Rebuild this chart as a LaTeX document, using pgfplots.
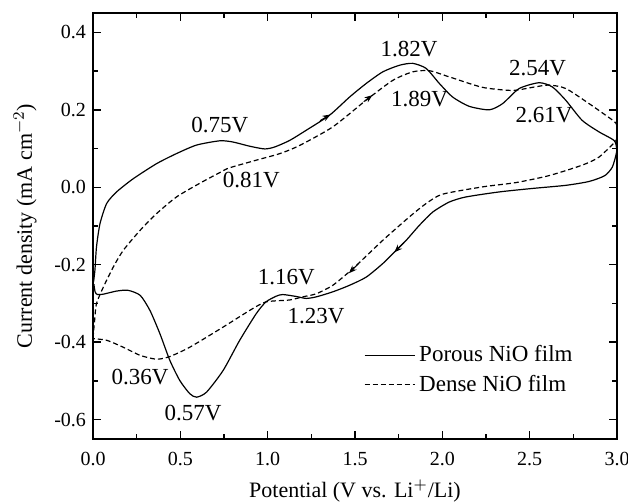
\documentclass[border=0pt]{standalone}
\usepackage{fontspec}
\setmainfont{Liberation Serif}
\usepackage{pgfplots}
\pgfplotsset{compat=1.18}
\usetikzlibrary{arrows.meta}

\begin{document}
\begin{tikzpicture}
\begin{axis}[
    name=ax,
    scale only axis,
    width=262pt, height=213pt,
    xmin=0, xmax=3, ymin=-0.65, ymax=0.45,
    xtick={0,0.5,...,3}, ytick={-0.6,-0.4,...,0.41},
    minor xtick={0.25,0.75,...,2.75},
    minor ytick={-0.5,-0.3,...,0.31},
    tick align=inside,
    major tick length=4pt, minor tick length=2.5pt,
    axis line style={line width=0.8pt},
    every tick/.style={black, line width=0.7pt},
    /pgf/number format/assume math mode=true,
    /pgf/number format/.cd, fixed, fixed zerofill, precision=1, /pgfplots/.cd,
    tick label style={font=\fontsize{10}{12}\selectfont},
    xticklabel style={yshift=-3pt},
    xlabel={Potential (V vs. Li$^{+}$/Li)},
    ylabel={Current density (mA cm$^{-2}$)},
    label style={font=\fontsize{11}{13}\selectfont},
    xlabel style={at={(axis description cs:0.5,0)}, anchor=center, yshift=-26pt},
    ylabel style={at={(axis description cs:0,0.5)}, anchor=center, yshift=34pt},
    legend style={draw=none, fill=none, at={(0.505,0.162)}, anchor=west,
        font=\fontsize{11.5}{13}\selectfont, row sep=1pt},
    legend cell align=left,
    legend image code/.code={\draw[#1] (0pt,0pt) -- (25pt,0pt);},
]
% porous NiO film: anodic branch then cathodic branch
\addplot[black, line width=0.6pt, smooth, tension=0.4] coordinates {
(0.003,-0.245) (0.011,-0.214) (0.02,-0.154) (0.04,-0.094) (0.078,-0.042)
(0.135,-0.012) (0.23,0.022) (0.364,0.061) (0.478,0.087) (0.593,0.109)
(0.726,0.12) (0.80,0.117) (0.897,0.106) (0.983,0.099) (1.04,0.104)
(1.126,0.121) (1.22,0.147) (1.354,0.186) (1.469,0.233) (1.564,0.268)
(1.659,0.298) (1.754,0.315) (1.83,0.32) (1.907,0.307) (1.983,0.268)
(2.059,0.233) (2.154,0.209) (2.269,0.2) (2.345,0.216) (2.44,0.255)
(2.554,0.27) (2.63,0.259) (2.706,0.225) (2.80,0.173) (2.897,0.143)
(2.983,0.121) (2.998,0.10)
(2.995,0.085) (2.973,0.052) (2.93,0.03) (2.84,0.015) (2.707,0.005)
(2.516,-0.003) (2.326,-0.012) (2.135,-0.025) (2.04,-0.038) (1.945,-0.064)
(1.869,-0.098) (1.793,-0.137) (1.735,-0.163) (1.659,-0.197) (1.564,-0.232)
(1.469,-0.253) (1.373,-0.27) (1.278,-0.283) (1.22,-0.287) (1.164,-0.282)
(1.087,-0.277) (1.05,-0.281) (0.99,-0.296) (0.935,-0.326) (0.84,-0.395)
(0.745,-0.473) (0.65,-0.529) (0.593,-0.542) (0.554,-0.533) (0.497,-0.499)
(0.44,-0.447) (0.383,-0.378) (0.326,-0.318) (0.27,-0.279) (0.20,-0.266)
(0.135,-0.268) (0.059,-0.276) (0.025,-0.277) (0.012,-0.27) (0.005,-0.25)
};
\addlegendentry{Porous NiO film}
% dense NiO film
\addplot[black, line width=0.6pt, dash pattern=on 2.5pt off 1.5pt, smooth, tension=0.4] coordinates {
(0.0,-0.39) (0.01,-0.34) (0.02,-0.30) (0.059,-0.258) (0.116,-0.206)
(0.173,-0.163) (0.27,-0.111) (0.364,-0.068) (0.478,-0.025) (0.61,0.01)
(0.726,0.038) (0.78,0.05) (0.935,0.07) (1.07,0.087) (1.183,0.108)
(1.373,0.156) (1.564,0.225) (1.716,0.276) (1.83,0.298) (1.926,0.301)
(2.04,0.285) (2.23,0.258) (2.40,0.25) (2.516,0.258) (2.61,0.264)
(2.707,0.255) (2.84,0.216) (2.935,0.186) (2.995,0.165)
(3.0,0.14) (2.995,0.121) (2.897,0.078) (2.80,0.057) (2.61,0.03)
(2.42,0.012) (2.23,0.001) (2.0,-0.018) (1.907,-0.042) (1.81,-0.077)
(1.659,-0.137) (1.488,-0.21) (1.373,-0.253) (1.278,-0.275) (1.2,-0.283)
(1.126,-0.291) (0.99,-0.296) (0.897,-0.318) (0.745,-0.361) (0.554,-0.413)
(0.44,-0.437) (0.364,-0.444) (0.27,-0.434) (0.173,-0.413) (0.078,-0.395)
(0.0,-0.391)
};
\addlegendentry{Dense NiO film}
% direction arrows
\addplot[forget plot, black, line width=0.5pt, -{Stealth[length=4pt,width=3pt]}] coordinates {(1.30,0.172) (1.36,0.188)};
\addplot[forget plot, black, line width=0.5pt, -{Stealth[length=4pt,width=3pt]}] coordinates {(1.55,0.221) (1.60,0.238)};
\addplot[forget plot, black, line width=0.5pt, -{Stealth[length=4pt,width=3pt]}] coordinates {(1.78,-0.143) (1.725,-0.168)};
\addplot[forget plot, black, line width=0.5pt, -{Stealth[length=4pt,width=3pt]}] coordinates {(1.52,-0.197) (1.465,-0.222)};
% peak labels
\begin{scope}[every node/.style={font=\fontsize{11.5}{13}\selectfont, inner sep=0pt}]
\node at (axis cs:0.726,0.16) {0.75V};
\node at (axis cs:0.907,0.018) {0.81V};
\node at (axis cs:1.81,0.358) {1.82V};
\node at (axis cs:1.87,0.229) {1.89V};
\node at (axis cs:2.545,0.307) {2.54V};
\node at (axis cs:2.583,0.186) {2.61V};
\node at (axis cs:1.107,-0.233) {1.16V};
\node at (axis cs:1.277,-0.333) {1.23V};
\node at (axis cs:0.269,-0.49) {0.36V};
\node at (axis cs:0.573,-0.583) {0.57V};
\end{scope}
\end{axis}
\pgfresetboundingbox
\path ([shift={(-46.5pt,-32pt)}]ax.south west) rectangle ([shift={(5.5pt,6.5pt)}]ax.north east);
\end{tikzpicture}
\end{document}
